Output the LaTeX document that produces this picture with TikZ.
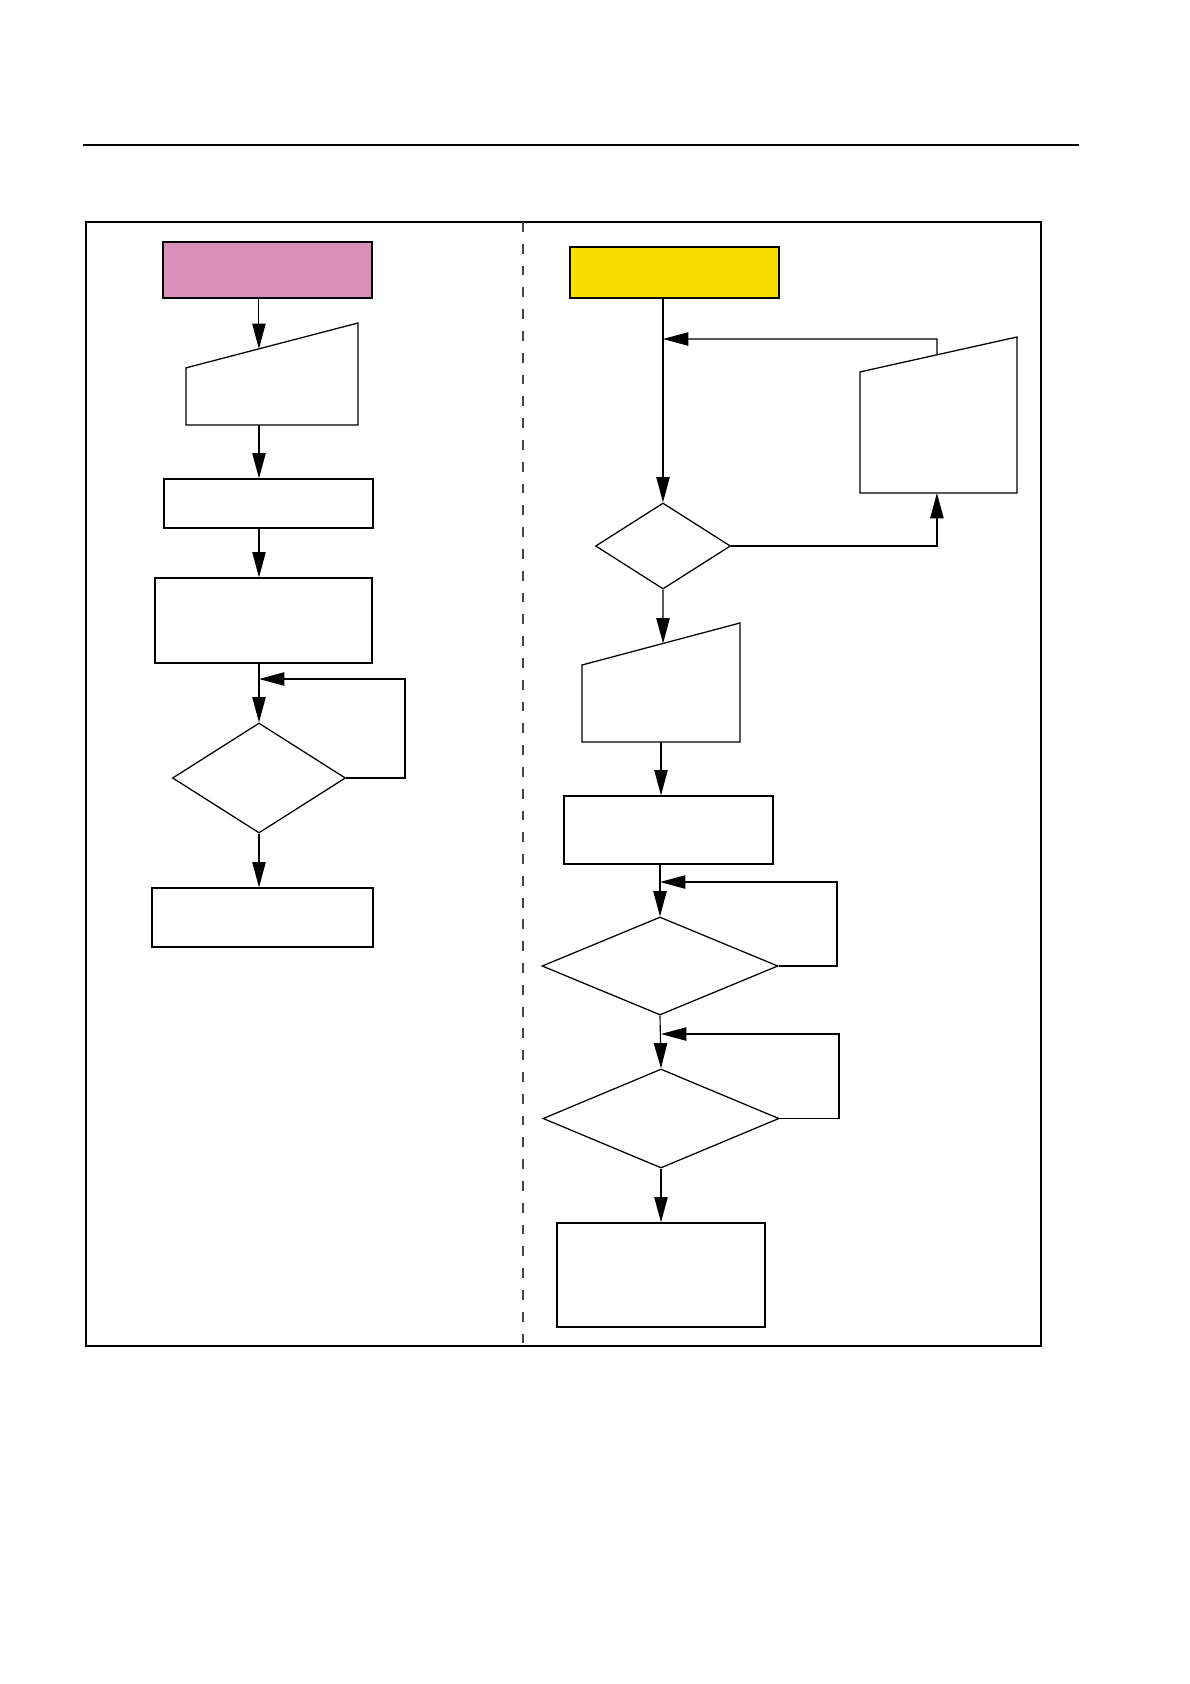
\documentclass[tikz,border=0pt]{standalone}
\usetikzlibrary{arrows.meta,positioning,shapes.geometric,calc}
\definecolor{Pink}{HTML}{DA8FBB}
\definecolor{Yellow}{HTML}{F9DF00}
\definecolor{DashGray}{HTML}{444444}

\begin{document}
\begin{tikzpicture}[
  x=0.025cm,y=-0.025cm,
  box/.style={draw,line width=0.9pt,inner sep=0pt},
  startbox/.style={draw,line width=1.3pt,inner sep=0pt},
  inbox/.style={inner sep=0pt,outer sep=0pt},
  dec/.style={diamond,draw,line width=0.9pt,inner sep=0pt},
  outline/.style={line width=0.9pt,line join=miter},
  arrow/.style={-{Triangle[length=18pt,width=9.5pt]},line width=0.8pt}
]
\fill[white] (0,0) rectangle (1190,1684);
\useasboundingbox (0,0) rectangle (1190,1684);

% page rule and frame
\draw[line width=1.5pt] (83,145) -- (1079,145);
\draw[line width=1.8pt] (86,222) rectangle (1041,1346);
\draw[DashGray,line width=1.2pt,dash pattern=on 7pt off 8.5pt] (523,222) -- (523,1346);

% left column
\node[startbox,fill=Pink,minimum width=5.225cm,minimum height=1.4cm] (start1) at (267.5,270) {};
\node[inbox,minimum width=4.3cm,minimum height=2.55cm] (inp1) at (272,374) {};
\node[box,minimum width=5.225cm,minimum height=1.225cm] (proc1) at (268.5,503.5) {};
\node[box,minimum width=5.425cm,minimum height=2.125cm] (proc2) at (263.5,620.5) {};
\node[dec,minimum width=4.325cm,minimum height=2.75cm] (dec1) at (259,778) {};
\node[box,minimum width=5.525cm,minimum height=1.475cm] (proc3) at (262.5,917.5) {};

\coordinate (inp1lt) at ($(inp1.south west)!0.56!(inp1.north west)$);
\coordinate (inp1in) at ($(inp1lt)!0.424!(inp1.north east)$);
\draw[outline] (inp1.south west) -- (inp1.south east) -- (inp1.north east) -- (inp1lt) -- cycle;
\coordinate (loop1) at (405,679);

\draw[arrow] (start1.south -| inp1in) -- (inp1in);
\draw[arrow] (inp1.south -| dec1) -- (proc1.north -| dec1);
\draw[arrow] (proc1.south -| dec1) -- (proc2.north -| dec1);
\draw[arrow] (proc2.south -| dec1) -- (dec1.north);
\draw[arrow] (dec1.south) -- (proc3.north -| dec1);
\draw[arrow] (dec1.east) -| (loop1) -- (loop1 -| dec1);

% right column
\node[startbox,fill=Yellow,minimum width=5.225cm,minimum height=1.275cm] (start2) at (674.5,272.5) {};
\node[dec,minimum width=3.375cm,minimum height=2.15cm] (dec2) at (663,546) {};
\node[inbox,minimum width=3.925cm,minimum height=3.9cm] (inp2) at (938.5,415) {};
\node[inbox,minimum width=3.95cm,minimum height=2.975cm] (inp3) at (661,682.5) {};
\node[box,minimum width=5.225cm,minimum height=1.7cm] (proc4) at (668.5,830) {};
\node[dec,minimum width=5.9cm,minimum height=2.45cm] (dec3) at (660,966) {};
\node[dec,minimum width=5.9cm,minimum height=2.475cm] (dec4) at (661,1118.5) {};
\node[box,minimum width=5.2cm,minimum height=2.6cm] (proc5) at (661,1275) {};

\coordinate (inp2lt) at ($(inp2.south west)!0.776!(inp2.north west)$);
\coordinate (inp2out) at ($(inp2lt)!0.49!(inp2.north east)$);
\draw[outline] (inp2.south west) -- (inp2.south east) -- (inp2.north east) -- (inp2lt) -- cycle;
\coordinate (inp3lt) at ($(inp3.south west)!0.647!(inp3.north west)$);
\coordinate (inp3in) at ($(inp3lt)!0.513!(inp3.north east)$);
\draw[outline] (inp3.south west) -- (inp3.south east) -- (inp3.north east) -- (inp3lt) -- cycle;
\coordinate (fb) at (937,339);
\coordinate (loop2) at (837,882);
\coordinate (loop3) at (839,1034);

\draw[arrow] (start2.south -| dec2) -- (dec2.north);
\draw[arrow] (inp2out) -- (fb) -- (fb -| dec2);
\draw[arrow] (dec2.east) -| (inp2.south -| inp2out);
\draw[arrow] (dec2.south) -- (inp3in);
\draw[arrow] (inp3.south -| dec4) -- (proc4.north -| dec4);
\draw[arrow] (proc4.south -| dec3) -- (dec3.north);
\draw[arrow] (dec3.east) -| (loop2) -- (loop2 -| dec3);
\draw[arrow] (dec3.south) -- (dec4.north);
\draw[arrow] (dec4.east) -| (loop3) -- (loop3 -| dec4);
\draw[arrow] (dec4.south) -- (proc5.north -| dec4);
\end{tikzpicture}
\end{document}
